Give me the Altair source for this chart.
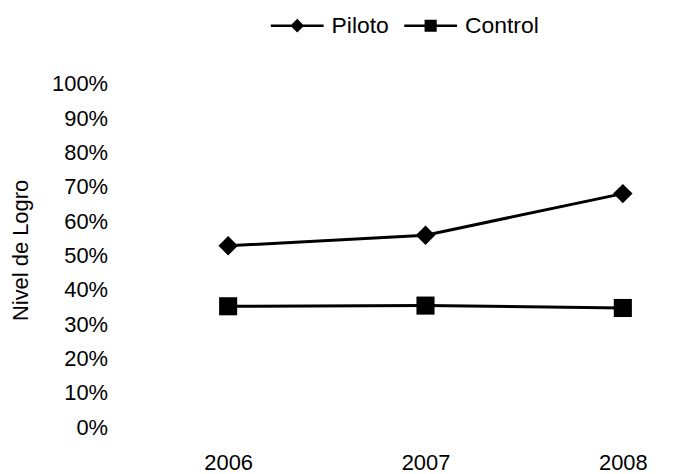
import altair as alt
import pandas as pd

years = [2006, 2007, 2008]
piloto = [0.528, 0.559, 0.680]
control = [0.352, 0.354, 0.347]
series = ["Piloto", "Control"]
y_ticks = [0, 0.1, 0.2, 0.3, 0.4, 0.5, 0.6, 0.7, 0.8, 0.9, 1.0]

df = pd.DataFrame({
    "Año": years * 2,
    "Nivel": piloto + control,
    "Serie": [series[0]] * 3 + [series[1]] * 3,
})

FONT = "Liberation Sans"

x_enc = alt.X("Año:Q",
              scale=alt.Scale(domain=[2005.5, 2008.3], nice=False, zero=False),
              axis=alt.Axis(values=years, format="d", title=None, grid=False,
                            domain=False, ticks=False, tickSize=0, labelPadding=26,
                            labelFontSize=22, labelFont=FONT, labelColor="black"))
y_enc = alt.Y("Nivel:Q",
              scale=alt.Scale(domain=[0, 1], nice=False),
              axis=alt.Axis(values=y_ticks, format=".0%", title="Nivel de Logro",
                            grid=False, domain=False, ticks=False, tickSize=0,
                            labelPadding=22, labelFontSize=22, labelFont=FONT,
                            labelColor="black", labelFontWeight="normal",
                            titleFont=FONT, titleFontSize=22, titleFontWeight="normal",
                            titleColor="black", titleX=-109, titleY=167,
                            titleAngle=270, titleAlign="center", titleBaseline="middle"))

base = alt.Chart(df)

lines = base.mark_line(color="black", strokeWidth=3).encode(
    x=x_enc, y=y_enc, detail="Serie:N")

pts_p = base.transform_filter(alt.datum.Serie == "Piloto").mark_point(
    shape="diamond", filled=True, color="black", opacity=1, size=380).encode(x=x_enc, y=y_enc)

pts_c = base.transform_filter(alt.datum.Serie == "Control").mark_point(
    shape="square", filled=True, color="black", opacity=1, size=330).encode(x=x_enc, y=y_enc)

legend_paths = [
    "M-1,-0.05L1,-0.05L1,0.05L-1,0.05ZM-0.26,0L0,-0.26L0.26,0L0,0.26Z",
    "M-1,-0.05L1,-0.05L1,0.05L-1,0.05ZM-0.23,-0.23L0.23,-0.23L0.23,0.23L-0.23,0.23Z",
]

legend_layer = base.transform_filter("false").mark_point(
    filled=True, color="black", opacity=1).encode(
    x=x_enc, y=y_enc,
    shape=alt.Shape("Serie:N",
                    scale=alt.Scale(domain=series, range=legend_paths),
                    legend=alt.Legend(title=None, orient="none", direction="horizontal",
                                      legendX=142, legendY=-85, padding=0,
                                      symbolSize=2809, symbolStrokeWidth=0,
                                      symbolFillColor="black",
                                      symbolOpacity=1, labelOffset=8, columnPadding=15,
                                      labelFont=FONT, labelFontSize=23, labelColor="black",
                                      labelLimit=200)))

chart = alt.layer(lines, pts_p, pts_c, legend_layer).properties(
    width=555, height=345,
    padding={"left": 122, "top": 75, "right": 10, "bottom": 46},
    autosize="none",
    background="white",
).configure_view(strokeWidth=0, stroke="transparent")

chart.save("out.html", embed_options={"renderer": "svg", "actions": False})
